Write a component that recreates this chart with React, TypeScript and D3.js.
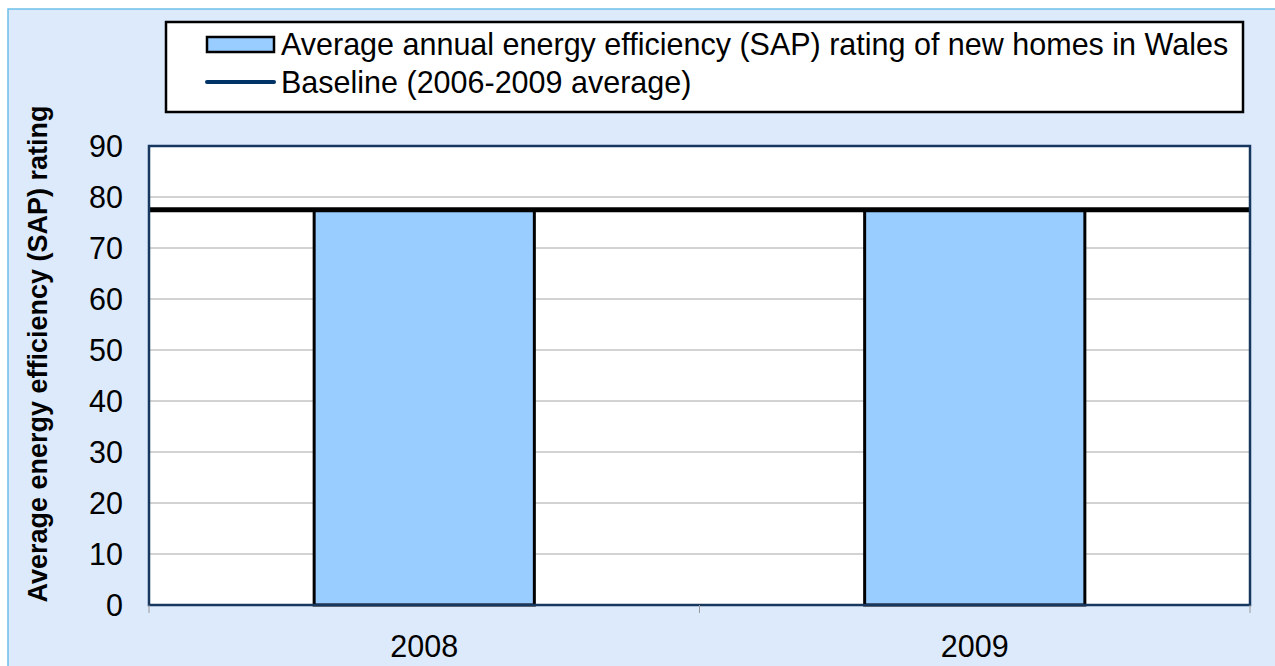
import React from "react";
import * as d3 from "d3";

const categories = ["2008", "2009"];
const sapValues = [77.5, 77.5];
const baselineValue = 77.5;
const yTicks = [0, 10, 20, 30, 40, 50, 60, 70, 80, 90];
const legendLabels = [
  "Average annual energy efficiency (SAP) rating of new homes in Wales",
  "Baseline (2006-2009 average)",
];
const yTitle = "Average energy efficiency (SAP) rating";

export default function App() {
  const W = 1275, H = 666;
  const plot = { x0: 149, x1: 1250, y0: 146, y1: 605 };
  const x = d3.scaleBand().domain(categories).range([plot.x0, plot.x1]).paddingInner(0.6).paddingOuter(0.3);
  const xb = d3.scaleBand().domain(categories).range([plot.x0, plot.x1]);
  const y = d3.scaleLinear().domain([0, 90]).range([plot.y1, plot.y0]);
  const font = "'Liberation Sans', Arial, sans-serif";
  const fs = 30.5;
  return (
    <svg width={W} height={H} style={{ position: "absolute", left: 0, top: 0 }} fontFamily={font}>
      <rect x={0} y={0} width={W} height={H} fill="#ffffff" />
      <rect x={8} y={9} width={W + 20} height={H + 20} fill="#dceafc" stroke="#6cc0e8" strokeWidth={1.5} />
      {/* legend */}
      <rect x={166} y={22} width={1077} height={90} fill="#ffffff" stroke="#000" strokeWidth={2.5} />
      <rect x={207} y={37} width={67} height={15} fill="#99ccff" stroke="#000" strokeWidth={2.5} />
      <text x={281} y={55} fontSize={fs} fill="#000">{legendLabels[0]}</text>
      <line x1={207} x2={274} y1={82} y2={82} stroke="#003366" strokeWidth={4} strokeLinecap="round" />
      <text x={281} y={93} fontSize={fs} fill="#000">{legendLabels[1]}</text>
      {/* plot */}
      <rect x={plot.x0} y={plot.y0} width={plot.x1 - plot.x0} height={plot.y1 - plot.y0} fill="#ffffff" />
      {yTicks.map((t) => (
        <g key={t}>
          {t > 0 && t < 90 && (
            <line x1={plot.x0} x2={plot.x1} y1={y(t)} y2={y(t)} stroke="#a6a6a6" strokeWidth={1} />
          )}
          <text x={123} y={y(t)} dy="0.36em" textAnchor="end" fontSize={fs} fill="#000">{t}</text>
        </g>
      ))}
      {categories.map((c, i) => (
        <rect key={c} x={x(c)} y={y(sapValues[i])} width={x.bandwidth()} height={plot.y1 - y(sapValues[i])}
          fill="#99ccff" stroke="#000" strokeWidth={3} />
      ))}
      <line x1={plot.x0} x2={plot.x1} y1={y(baselineValue)} y2={y(baselineValue)} stroke="#000" strokeWidth={5} />
      <rect x={plot.x0} y={plot.y0} width={plot.x1 - plot.x0} height={plot.y1 - plot.y0} fill="none" stroke="#17375e" strokeWidth={2.5} />
      {/* x axis ticks */}
      {[plot.x0, ...categories.map((c) => (xb(c) as number) + xb.bandwidth())].map((tx, i) => (
        <line key={i} x1={tx} x2={tx} y1={plot.y1} y2={plot.y1 + 8} stroke="#999" strokeWidth={1} />
      ))}
      {categories.map((c) => (
        <text key={c} x={(xb(c) as number) + xb.bandwidth() / 2} y={657} textAnchor="middle" fontSize={fs} fill="#000">{c}</text>
      ))}
      <text transform={`translate(47, 354) rotate(-90)`} textAnchor="middle" fontSize={27} fontWeight="bold" fill="#000">{yTitle}</text>
    </svg>
  );
}
